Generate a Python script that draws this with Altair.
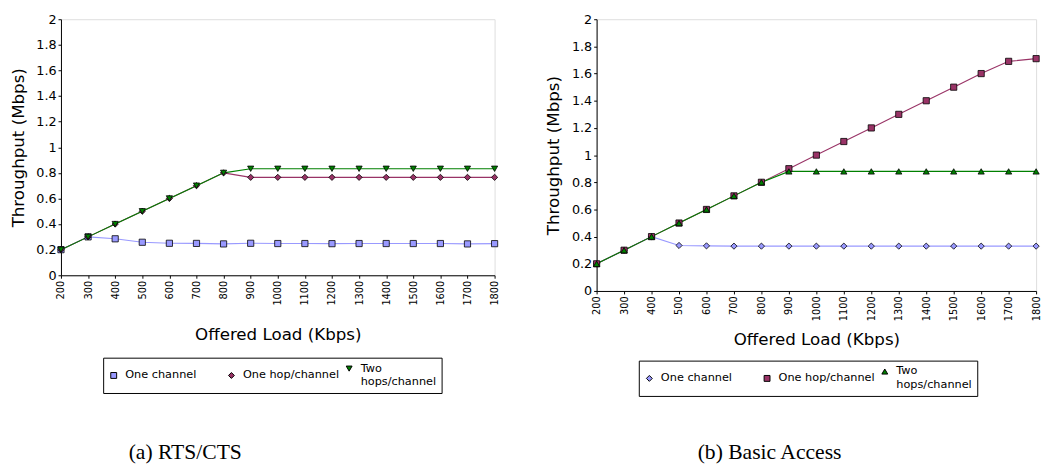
import altair as alt
import pandas as pd

loads = [200, 300, 400, 500, 600, 700, 800, 900, 1000, 1100, 1200, 1300, 1400, 1500, 1600, 1700, 1800]
series_names = ["One channel", "One hop/channel", "Two hops/channel"]

# (a) RTS/CTS
a_one_channel = [0.20, 0.30, 0.285, 0.258, 0.250, 0.249, 0.245, 0.250, 0.248, 0.248, 0.247, 0.248, 0.248, 0.248, 0.248, 0.245, 0.247]
a_one_hop = [0.20, 0.30, 0.40, 0.50, 0.60, 0.70, 0.80, 0.765, 0.765, 0.765, 0.765, 0.765, 0.765, 0.765, 0.765, 0.765, 0.765]
a_two_hops = [0.20, 0.30, 0.40, 0.50, 0.60, 0.70, 0.80, 0.832, 0.832, 0.832, 0.832, 0.832, 0.832, 0.832, 0.832, 0.832, 0.832]

# (b) Basic Access
b_one_channel = [0.20, 0.30, 0.40, 0.335, 0.332, 0.330, 0.330, 0.330, 0.330, 0.330, 0.330, 0.330, 0.330, 0.330, 0.330, 0.330, 0.330]
b_one_hop = [0.20, 0.30, 0.40, 0.50, 0.60, 0.70, 0.80, 0.90, 1.00, 1.10, 1.20, 1.30, 1.40, 1.50, 1.60, 1.69, 1.71]
b_two_hops = [0.20, 0.30, 0.40, 0.50, 0.60, 0.70, 0.80, 0.88, 0.88, 0.88, 0.88, 0.88, 0.88, 0.88, 0.88, 0.88, 0.88]

y_ticks = [0, 0.2, 0.4, 0.6, 0.8, 1.0, 1.2, 1.4, 1.6, 1.8, 2.0]
colors = ["#9999ff", "#993366", "#008000"]
FONT = "DejaVu Sans"
LABEL_DY = -6


def make_df(vals):
    rows = []
    for name, arr in zip(series_names, vals):
        for x, y in zip(loads, arr):
            rows.append({"load": x, "thr": y, "series": name})
    return pd.DataFrame(rows)


def panel(df, shapes, w, h, caption, cap_dx, cap_off, leg_x, leg_y, xt_pad):
    x = alt.X("load:Q", scale=alt.Scale(domain=[200, 1800], nice=False, zero=False),
              axis=alt.Axis(values=loads, labelAngle=270, format="d", title="Offered Load (Kbps)",
                            labelFontSize=10, titleFontSize=17, titleFontWeight="normal",
                            titlePadding=xt_pad, tickSize=3, grid=False, domainColor="black",
                            tickColor="black", labelColor="black", titleColor="black",
                            labelFont=FONT, titleFont=FONT, labelPadding=2,
                            labelOffset=-LABEL_DY))
    y = alt.Y("thr:Q", scale=alt.Scale(domain=[0, 2], nice=False),
              axis=alt.Axis(values=y_ticks, format=".1~f", title="Throughput (Mbps)",
                            labelFontSize=13, titleFontSize=17, titleFontWeight="normal",
                            titlePadding=9, tickSize=3, grid=False, domainColor="black",
                            tickColor="black", labelColor="black", titleColor="black",
                            labelFont=FONT, titleFont=FONT, labelPadding=2,
                            labelOffset=-LABEL_DY))
    legend = alt.Legend(title=None, orient="none", legendX=leg_x, legendY=leg_y,
                        direction="horizontal", columns=3, gridAlign="all",
                        columnPadding=4, strokeColor="black", padding=5,
                        labelFont=FONT, labelFontSize=11.5, labelColor="black",
                        symbolSize=36, symbolStrokeColor="black", symbolStrokeWidth=1,
                        labelOffset=6, labelBaseline="top",
                        labelExpr="datum.label == 'Two hops/channel' ? 'Two\\nhops/channel' : datum.label")
    layers = []
    for name, c in zip(series_names, colors):
        layers.append(
            alt.Chart(df).transform_filter(alt.datum.series == name)
            .mark_line(strokeWidth=1.1, color=c).encode(x=x, y=y)
        )
    pts = alt.Chart(df).mark_point(filled=True, strokeWidth=0.8, size=40, opacity=1).encode(
        x=x, y=y,
        fill=alt.Fill("series:N", scale=alt.Scale(domain=series_names, range=colors), legend=legend),
        stroke=alt.Stroke("series:N", scale=alt.Scale(domain=series_names, range=["black", "black", "black"]), legend=legend),
        shape=alt.Shape("series:N", scale=alt.Scale(domain=series_names, range=shapes), legend=legend),
    )
    layers.append(pts)
    return alt.layer(*layers).properties(
        width=w, height=h,
        title=alt.TitleParams(caption, orient="bottom", anchor="start", frame="group",
                              dx=cap_dx, offset=cap_off, font="Liberation Serif", fontSize=22,
                              fontWeight="normal", color="black"),
    )


left = panel(make_df([a_one_channel, a_one_hop, a_two_hops]),
             ["square", "diamond", "triangle-down"], 442, 261, "(a) RTS/CTS", 69, 50, 43, 345, 22)
right = panel(make_df([b_one_channel, b_one_hop, b_two_hops]),
              ["diamond", "square", "triangle-up"], 448, 277, "(b) Basic Access", 103, 47, 43, 348, 11)

chart = alt.hconcat(left, right, spacing=44).resolve_scale(
    fill="independent", shape="independent", stroke="independent"
).properties(padding=0).configure_view(stroke=None).configure(
    background="white",
    style={"guide-label": {"lineBreak": "\n", "lineHeight": 14, "dy": LABEL_DY}},
)

chart.save("out.html", embed_options={"renderer": "svg", "actions": False})
